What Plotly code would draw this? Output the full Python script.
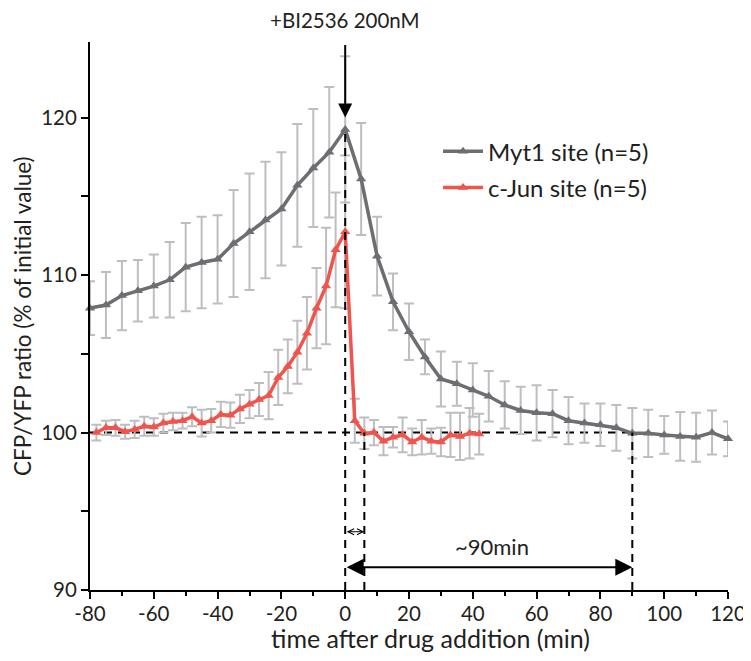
import plotly.graph_objects as go

# ---- data ----
myt1_time = [-80, -75, -70, -65, -60, -55, -50, -45, -40, -35, -30, -25, -20, -15, -10, -5, 0,
             5, 10, 15, 20, 25, 30, 35, 40, 45, 50, 55, 60, 65, 70, 75, 80, 85, 90, 95, 100,
             105, 110, 115, 120]
myt1_ratio = [107.9, 108.1, 108.7, 109.0, 109.3, 109.7, 110.5, 110.8, 111.0, 112.0, 112.75,
              113.5, 114.2, 115.7, 116.8, 117.8, 119.25, 116.1, 111.2, 108.3, 106.4, 104.8,
              103.4, 103.1, 102.7, 102.3, 101.75, 101.4, 101.25, 101.2, 100.75, 100.6, 100.5,
              100.3, 99.95, 99.95, 99.85, 99.75, 99.7, 100.0, 99.6]
myt1_err = [1.7, 2.1, 2.2, 1.95, 2.0, 2.4, 2.8, 2.9, 2.8, 3.4, 3.7, 3.7, 3.6, 3.9, 3.75, 4.15,
            4.65, 3.55, 2.5, 1.8, 1.8, 1.1, 1.75, 1.4, 1.7, 1.6, 1.5, 1.5, 1.75, 1.5, 1.5, 1.25,
            1.35, 1.45, 1.6, 1.5, 1.2, 1.55, 1.55, 1.4, 1.1]

cjun_time = [-78, -75, -72, -69, -66, -63, -60, -57, -54, -51, -48, -45, -42, -39, -36, -33,
             -30, -27, -24, -21, -18, -15, -12, -9, -6, -3, 0, 3, 6, 9, 12, 15, 18, 21, 24, 27,
             30, 33, 36, 39, 42]
cjun_ratio = [100.0, 100.3, 100.3, 100.05, 100.2, 100.4, 100.35, 100.6, 100.7, 100.75, 101.0,
              100.6, 100.75, 101.15, 101.1, 101.5, 101.8, 102.1, 102.35, 103.5, 104.2, 105.1,
              106.3, 107.9, 109.3, 111.6, 112.75, 100.75, 99.95, 100.0, 99.45, 99.7, 99.85,
              99.4, 99.7, 99.45, 99.4, 99.85, 99.75, 99.95, 99.9]
cjun_err = [0.5, 0.45, 0.5, 0.45, 0.55, 0.6, 0.55, 0.6, 0.55, 0.5, 0.6, 0.85, 0.75, 0.8, 0.8,
            0.9, 0.9, 1.05, 1.5, 1.75, 1.7, 2.0, 2.3, 2.55, 3.7, 3.65, 4.85, 1.4, 1.0, 0.8, 0.9,
            0.65, 1.1, 0.85, 1.1, 0.8, 0.9, 1.4, 1.5, 1.6, 1.3]

series_names = ["Myt1 site (n=5)", "c-Jun site (n=5)"]
x_ticks = [-80, -60, -40, -20, 0, 20, 40, 60, 80, 100, 120]
x_tick_labels = ["-80", "-60", "-40", "-20", "0", "20", "40", "60", "80", "100", "120"]
y_ticks = [90, 100, 110, 120]
y_tick_labels = ["90", "100", "110", "120"]

drug_time = 0
jun_recovery = 6
myt1_recovery = 90
baseline = 100

GREY = "#6d6e71"
RED = "#f0544c"
ERR = "#bcbec0"
TXT = "#231f20"
FONT = "Lato, Open Sans, sans-serif"

fig = go.Figure()

# error bars first (behind lines)
fig.add_trace(go.Scatter(x=myt1_time, y=myt1_ratio, mode="markers",
                         marker=dict(size=1, color="rgba(0,0,0,0)"),
                         error_y=dict(type="data", array=myt1_err, color=ERR, thickness=2, width=5),
                         showlegend=False, hoverinfo="skip", cliponaxis=False))
fig.add_trace(go.Scatter(x=cjun_time, y=cjun_ratio, mode="markers",
                         marker=dict(size=1, color="rgba(0,0,0,0)"),
                         error_y=dict(type="data", array=cjun_err, color=ERR, thickness=2, width=5),
                         showlegend=False, hoverinfo="skip", cliponaxis=False))

fig.add_trace(go.Scatter(x=myt1_time, y=myt1_ratio, mode="lines+markers", name=series_names[0],
                         line=dict(color=GREY, width=3.5),
                         marker=dict(symbol="triangle-up", size=9, color=GREY),
                         legendgroup="a", cliponaxis=False))
fig.add_trace(go.Scatter(x=cjun_time, y=cjun_ratio, mode="lines+markers", name=series_names[1],
                         line=dict(color=RED, width=3.5),
                         marker=dict(symbol="triangle-up", size=9, color=RED),
                         legendgroup="b", cliponaxis=False))

dash = dict(color="black", width=2, dash="8px,6px")
shapes = [
    dict(type="line", xref="x", yref="y", x0=-80, x1=myt1_recovery, y0=baseline, y1=baseline,
         line=dash, layer="below"),
    dict(type="line", xref="x", yref="y", x0=drug_time, x1=drug_time, y0=90,
         y1=myt1_ratio[myt1_time.index(0)], line=dash, layer="above"),
    dict(type="line", xref="x", yref="y", x0=jun_recovery, x1=jun_recovery, y0=90, y1=baseline,
         line=dash, layer="above"),
    dict(type="line", xref="x", yref="y", x0=myt1_recovery, x1=myt1_recovery, y0=90, y1=baseline,
         line=dash, layer="above"),
]

annotations = [
    dict(text="+BI2536 200nM", xref="x", yref="paper", x=drug_time, y=1.040, showarrow=False,
         font=dict(size=20.5, color=TXT, family=FONT), xanchor="center", yanchor="middle"),
    # drug arrow
    dict(text="", xref="x", yref="y", x=drug_time, y=120.0, ax=0, ay=-74,
         showarrow=True, arrowhead=2, arrowsize=1.4, arrowwidth=2, arrowcolor="black"),
    # small double arrow 0-6
    dict(text="", xref="x", yref="y", x=jun_recovery, y=93.7, axref="x", ayref="y",
         ax=drug_time, ay=93.7, showarrow=True, arrowhead=5, startarrowhead=5,
         arrowside="end+start", arrowsize=1, startarrowsize=1, arrowwidth=1.2, arrowcolor="black"),
    # big double arrow 0-90
    dict(text="", xref="x", yref="y", x=myt1_recovery, y=91.45, axref="x", ayref="y",
         ax=drug_time, ay=91.45, showarrow=True, arrowhead=2, startarrowhead=2,
         arrowside="end+start", arrowsize=1.7, startarrowsize=1.7, arrowwidth=2, arrowcolor="black"),
    dict(text="~90min", xref="x", yref="y", x=46, y=92.75, showarrow=False,
         font=dict(size=22, color=TXT, family=FONT), xanchor="center", yanchor="middle"),
    # axis titles
    dict(text="time after drug addition (min)", xref="paper", yref="paper", x=0.533, y=-0.0876,
         showarrow=False, font=dict(size=25, color=TXT, family=FONT),
         xanchor="center", yanchor="middle"),
    dict(text="CFP/YFP ratio (% of initial value)", xref="paper", yref="paper", x=-0.1066, y=0.5,
         showarrow=False, textangle=-90, font=dict(size=22.5, color=TXT, family=FONT),
         xanchor="center", yanchor="middle"),
]

fig.update_layout(
    width=751, height=661,
    margin=dict(l=82, r=31, t=34, b=79, autoexpand=False),
    paper_bgcolor="white", plot_bgcolor="white",
    font=dict(family=FONT, color=TXT, size=17),
    shapes=shapes, annotations=annotations,
    legend=dict(x=0.5455, y=0.841, xanchor="left", yanchor="top", bgcolor="rgba(0,0,0,0)",
                font=dict(size=24, color=TXT, family=FONT), tracegroupgap=2,
                traceorder="grouped", itemwidth=40),
    showlegend=True,
)
fig.update_xaxes(range=[-80, 120], tickvals=x_ticks, ticktext=x_tick_labels, ticks="outside",
                 ticklen=7, tickwidth=1.5, automargin=False, ticklabelstandoff=-3,
                 tickcolor="black", showline=True, linecolor="black", linewidth=2,
                 showgrid=False, zeroline=False, tickfont=dict(size=20.5, family=FONT, color=TXT),
                 minor=dict(dtick=10, ticks="outside", ticklen=4, tickwidth=1.5, tickcolor="black"))
fig.update_yaxes(range=[90, 124.8], tickvals=y_ticks, ticktext=y_tick_labels, ticks="outside",
                 ticklen=7, tickwidth=1.5, automargin=False,
                 tickcolor="black", showline=True, linecolor="black", linewidth=2,
                 showgrid=False, zeroline=False, tickfont=dict(size=20.5, family=FONT, color=TXT),
                 minor=dict(dtick=5, ticks="outside", ticklen=7, tickwidth=1.5, tickcolor="black"))

fig.write_html("out.html")
